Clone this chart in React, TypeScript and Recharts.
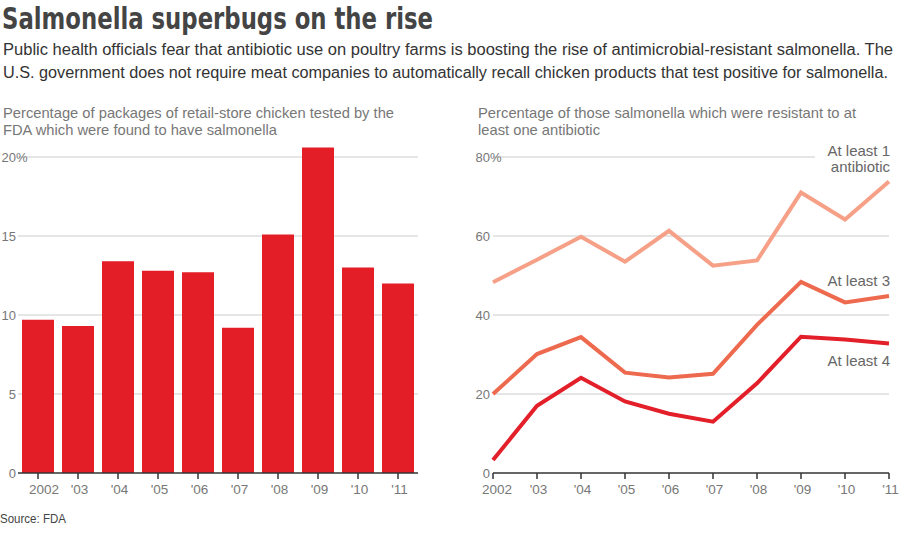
import React from 'react';
import { BarChart, Bar, LineChart, Line, XAxis, YAxis, CartesianGrid } from 'recharts';

const years = ['2002', "'03", "'04", "'05", "'06", "'07", "'08", "'09", "'10", "'11"];
const salmonellaPct = [9.7, 9.3, 13.4, 12.8, 12.7, 9.2, 15.1, 20.6, 13.0, 12.0];
const atLeast1 = [48.3, 54.0, 59.8, 53.5, 61.3, 52.5, 53.8, 71.0, 64.2, 73.8];
const atLeast3 = [20.0, 30.1, 34.4, 25.4, 24.2, 25.1, 37.5, 48.4, 43.2, 44.8];
const atLeast4 = [3.3, 17.0, 24.1, 18.1, 15.0, 13.0, 22.7, 34.5, 33.8, 32.8];
const leftTicks = [0, 5, 10, 15, 20];
const rightTicks = [0, 20, 40, 60, 80];
const leftDomain = [0, 22];
const rightDomain = [0, 80];

const barData = years.map((year, i) => ({ year, pct: salmonellaPct[i] }));
const lineData = years.map((year, i) => ({ year, a1: atLeast1[i], a3: atLeast3[i], a4: atLeast4[i] }));

const FONT = "'Liberation Sans', Arial, sans-serif";
const GRAY = '#777';

const gridGen = (ticks: number[], domain: number[]) => (p: any) => {
  const s = p && p.yAxis && p.yAxis.scale;
  let f: ((v: number) => number) | null = null;
  if (typeof s === 'function') f = s;
  else if (s && typeof s.map === 'function') f = (v: number) => s.map(v);
  else if (s && typeof s.scale === 'function') f = s.scale;
  const vals = ticks.filter((t) => t > 0);
  if (f) {
    try {
      const out = vals.map((t) => f!(t));
      if (out.every((v) => typeof v === 'number' && isFinite(v))) return out;
    } catch (e) {}
  }
  const off = p.offset;
  return vals.map((t) => off.top + off.height * (1 - (t - domain[0]) / (domain[1] - domain[0])));
};

const makeYTick = (xRight: number, pctAt: number) => (props: any) => {
  const { y, payload } = props;
  return (
    <g>
      <text x={xRight} y={y} dy="0.35em" textAnchor="end" fill={GRAY} fontSize={13} fontFamily={FONT}>
        {payload.value}
      </text>
      {payload.value === pctAt && (
        <text x={xRight} y={y} dy="0.35em" textAnchor="start" fill={GRAY} fontSize={13} fontFamily={FONT}>
          %
        </text>
      )}
    </g>
  );
};

const makeXTick = (firstShift: number) => (props: any) => {
  const { x, y, payload } = props;
  const shift = payload.index === 0 ? firstShift : 1.5;
  return (
    <text x={x + shift} y={y} dy="0.71em" textAnchor="middle" fill={GRAY} fontSize={13.5} fontFamily={FONT}>
      {payload.value}
    </text>
  );
};

const endLabel = (lines: string[], dys: number[], cover?: boolean) => (props: any) => {
  const { x, y, index } = props;
  if (index !== years.length - 1) return null;
  return (
    <g>
      {cover && <rect x={x - 74} y={y - 36} width={86} height={14} fill="#fff" />}
      {lines.map((t, i) => (
        <text key={i} x={x + 1} y={y + dys[i]} textAnchor="end" fill="#666" fontSize={15} fontFamily={FONT}>
          {t}
        </text>
      ))}
    </g>
  );
};

export default function App() {
  return (
    <div style={{ position: 'absolute', left: 0, top: 0, width: 900, height: 540, background: '#fff', overflow: 'hidden' }}>
      <svg width={900} height={540} style={{ position: 'absolute', left: 0, top: 0 }}>
        <text x={2} y={29} fontSize={31} fontWeight="bold" fill="#444"
          fontFamily="'Liberation Sans Narrow', 'DejaVu Sans Condensed', sans-serif"
          textLength={431} lengthAdjust="spacingAndGlyphs">
          Salmonella superbugs on the rise
        </text>
        <text x={3} y={55} fontSize={16} fill="#333" fontFamily={FONT} textLength={890} lengthAdjust="spacingAndGlyphs">
          Public health officials fear that antibiotic use on poultry farms is boosting the rise of antimicrobial-resistant salmonella. The
        </text>
        <text x={3} y={78} fontSize={16} fill="#333" fontFamily={FONT} textLength={885} lengthAdjust="spacingAndGlyphs">
          U.S. government does not require meat companies to automatically recall chicken products that test positive for salmonella.
        </text>
        <text x={3} y={117.5} fontSize={14.5} fill={GRAY} fontFamily={FONT} textLength={391} lengthAdjust="spacingAndGlyphs">
          Percentage of packages of retail-store chicken tested by the
        </text>
        <text x={3} y={134.5} fontSize={14.5} fill={GRAY} fontFamily={FONT} textLength={274} lengthAdjust="spacingAndGlyphs">
          FDA which were found to have salmonella
        </text>
        <text x={478} y={117.5} fontSize={14.5} fill={GRAY} fontFamily={FONT} textLength={378} lengthAdjust="spacingAndGlyphs">
          Percentage of those salmonella which were resistant to at
        </text>
        <text x={478} y={134.5} fontSize={14.5} fill={GRAY} fontFamily={FONT} textLength={122} lengthAdjust="spacingAndGlyphs">
          least one antibiotic
        </text>
        <text x={0} y={523} fontSize={12.5} fill="#444" fontFamily={FONT} textLength={66} lengthAdjust="spacingAndGlyphs">
          Source: FDA
        </text>
      </svg>

      <div style={{ position: 'absolute', left: 0, top: 0 }}>
        <BarChart width={430} height={540} data={barData} margin={{ top: 125.4, right: 12, bottom: 37, left: 0 }}>
          <CartesianGrid vertical={false} stroke="#ccc" horizontalCoordinatesGenerator={gridGen(leftTicks, leftDomain)} />
          <YAxis width={18} domain={leftDomain} ticks={leftTicks} axisLine={false} tickLine={false} tick={makeYTick(16, 20)} />
          <XAxis dataKey="year" height={30} stroke="#333" tickSize={6} tickMargin={5}
            axisLine={{ stroke: '#333', strokeWidth: 1.5 }} tickLine={{ stroke: '#333', strokeWidth: 1.5 }}
            tick={makeXTick(6)} interval={0} />
          <Bar dataKey="pct" fill="#e31e26" barSize={32} isAnimationActive={false} />
        </BarChart>
      </div>

      <div style={{ position: 'absolute', left: 450, top: 0 }}>
        <LineChart width={450} height={540} data={lineData} margin={{ top: 157, right: 11, bottom: 37, left: 0 }}>
          <CartesianGrid vertical={false} stroke="#ccc" horizontalCoordinatesGenerator={gridGen(rightTicks, rightDomain)} />
          <YAxis width={43} domain={rightDomain} ticks={rightTicks} axisLine={false} tickLine={false} tick={makeYTick(40, 80)} />
          <XAxis dataKey="year" height={30} stroke="#333" tickSize={6} tickMargin={5}
            axisLine={{ stroke: '#333', strokeWidth: 1.5 }} tickLine={{ stroke: '#333', strokeWidth: 1.5 }}
            tick={makeXTick(4)} interval={0} />
          <Line dataKey="a1" type="linear" stroke="#f6a187" strokeWidth={4} dot={false} isAnimationActive={false}
            label={endLabel(['At least 1', 'antibiotic'], [-25, -9], true)} />
          <Line dataKey="a3" type="linear" stroke="#ee6a4e" strokeWidth={4} dot={false} isAnimationActive={false}
            label={endLabel(['At least 3'], [-10])} />
          <Line dataKey="a4" type="linear" stroke="#e3202a" strokeWidth={4} dot={false} isAnimationActive={false}
            label={endLabel(['At least 4'], [23])} />
        </LineChart>
      </div>
    </div>
  );
}
